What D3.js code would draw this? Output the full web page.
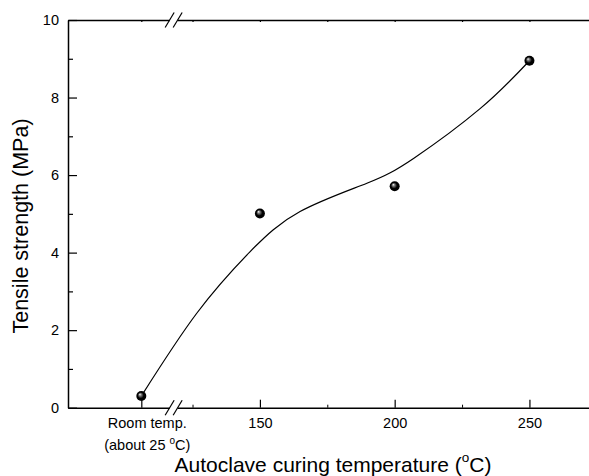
<!DOCTYPE html>
<html>
<head>
<meta charset="utf-8">
<script src="https://cdn.jsdelivr.net/npm/d3@7"></script>
<style>
  html, body { margin: 0; padding: 0; background: white; }
  svg { display: block; font-family: "Liberation Sans", Arial, Helvetica, sans-serif; }
</style>
</head>
<body>
<div id="chart"></div>
<script>
// measured points
const categories = ["Room temp.", "150", "200", "250"]
const categoryPos = [106, 150, 200, 250]   // room temp sits left of the axis break
const strength = [0.30, 5.01, 5.71, 8.95]

// fitted curve
const fitTemp = [106, 126.5, 146.3, 164.9, 189.7, 207.0, 231.8, 250]
const fitStrength = [0.30, 2.43, 4.02, 5.06, 5.79, 6.43, 7.72, 8.95]

const yMajor = [0, 2, 4, 6, 8, 10]
const yMinor = [1, 3, 5, 7, 9]
const xMajor = [106, 150, 200, 250]
const xMinor = [125, 175, 225]
const breakPos = 118

const margin = {top: 20, right: 0, bottom: 68, left: 68},
      W = 589, H = 476,
      width = W - margin.left - margin.right,
      height = 407.7 - margin.top

const svg = d3.select("#chart")
              .append("svg")
              .attr("width", W)
              .attr("height", H)

svg.append("rect").attr("width", W).attr("height", H).attr("fill", "white")

const defs = svg.append("defs")
const grad = defs.append("radialGradient")
                 .attr("id", "ball")
                 .attr("cx", "50%").attr("cy", "50%").attr("r", "50%")
                 .attr("fx", "35%").attr("fy", "32%")
grad.append("stop").attr("offset", "0%").attr("stop-color", "#ffffff")
grad.append("stop").attr("offset", "22%").attr("stop-color", "#888888")
grad.append("stop").attr("offset", "60%").attr("stop-color", "#000000")
grad.append("stop").attr("offset", "100%").attr("stop-color", "#000000")

const g = svg.append("g")
             .attr("transform", "translate(" + margin.left + "," + margin.top + ")")

const x = d3.scaleLinear()
            .domain([78.8, 272.1])
            .range([0, width])

const y = d3.scaleLinear()
            .domain([0, 10])
            .range([height, 0])

const tickFont = 14.5

function styleAxis(sel) {
    sel.select(".domain").attr("stroke", "#000").attr("stroke-width", 1.5)
    sel.selectAll(".tick line").attr("stroke", "#000").attr("stroke-width", 1.2)
    sel.selectAll("text").attr("font-size", tickFont).attr("fill", "#000")
       .attr("font-family", "\"Liberation Sans\", Arial, sans-serif")
}

// left axis
g.append("g")
 .call(d3.axisLeft(y).tickValues(yMajor).tickSizeInner(-9).tickSizeOuter(0).tickPadding(9))
 .call(styleAxis)
g.append("g")
 .call(d3.axisLeft(y).tickValues(yMinor).tickSizeInner(-5).tickSizeOuter(0).tickFormat(""))
 .call(sel => { sel.select(".domain").remove(); sel.selectAll(".tick line").attr("stroke", "#000").attr("stroke-width", 1.2) })

// bottom axis
g.append("g")
 .attr("transform", "translate(0," + height + ")")
 .call(d3.axisBottom(x).tickValues(xMajor).tickSizeInner(-8).tickSizeOuter(0).tickPadding(10)
         .tickFormat(d => d === 106 ? "" : d))
 .call(styleAxis)
g.append("g")
 .attr("transform", "translate(0," + height + ")")
 .call(d3.axisBottom(x).tickValues(xMinor).tickSizeInner(-3).tickSizeOuter(0).tickFormat(""))
 .call(sel => { sel.select(".domain").remove(); sel.selectAll(".tick line").attr("stroke", "#000").attr("stroke-width", 1) })

// top axis (frame line with tiny ticks)
g.append("g")
 .call(d3.axisTop(x).tickValues(xMajor.concat(xMinor)).tickSizeInner(-2).tickSizeOuter(0).tickFormat(""))
 .call(styleAxis)

// room temp label, two lines
const rtX = x(categoryPos[0]) + 6
const rt = g.append("text")
            .attr("x", rtX)
            .attr("y", height + 20.5)
            .attr("text-anchor", "middle")
            .attr("font-size", tickFont)
rt.append("tspan").attr("x", rtX).text(categories[0])
const rt2 = rt.append("tspan").attr("x", rtX).attr("dy", 21.5)
rt2.append("tspan").text("(about 25 ")
rt2.append("tspan").attr("font-size", 10).attr("dy", -6).text("o")
rt2.append("tspan").attr("dy", 6).text("C)")

// axis breaks
function axisBreak(yPos) {
    const cx = x(breakPos)
    g.append("rect")
     .attr("x", cx - 4).attr("y", yPos - 2)
     .attr("width", 8).attr("height", 4)
     .attr("fill", "white")
    ;[-4, 4].forEach(off => {
        g.append("line")
         .attr("x1", cx + off - 4.5).attr("y1", yPos + 7.5)
         .attr("x2", cx + off + 4.5).attr("y2", yPos - 7.5)
         .attr("stroke", "#000").attr("stroke-width", 1.2)
    })
}
axisBreak(0)
axisBreak(height)

// fitted curve
const line = d3.line()
               .x(d => x(d[0]))
               .y(d => y(d[1]))
               .curve(d3.curveNatural)

g.append("path")
 .datum(d3.zip(fitTemp, fitStrength))
 .attr("fill", "none")
 .attr("stroke", "#000")
 .attr("stroke-width", 1.2)
 .attr("d", line)

// markers
g.selectAll(".pt")
 .data(d3.zip(categoryPos, strength))
 .enter().append("circle")
 .attr("class", "pt")
 .attr("cx", d => x(d[0]))
 .attr("cy", d => y(d[1]))
 .attr("r", 5)
 .attr("fill", "url(#ball)")

// axis titles
const xt = svg.append("text")
              .attr("x", 333)
              .attr("y", 471.5)
              .attr("text-anchor", "middle")
              .attr("font-size", 21)
xt.append("tspan").text("Autoclave curing temperature (")
xt.append("tspan").attr("font-size", 13.5).attr("dy", -9.5).text("o")
xt.append("tspan").attr("dy", 9.5).text("C)")

svg.append("text")
   .attr("transform", "translate(28,226) rotate(-90)")
   .attr("text-anchor", "middle")
   .attr("font-size", 21.5)
   .text("Tensile strength (MPa)")
</script>
</body>
</html>
